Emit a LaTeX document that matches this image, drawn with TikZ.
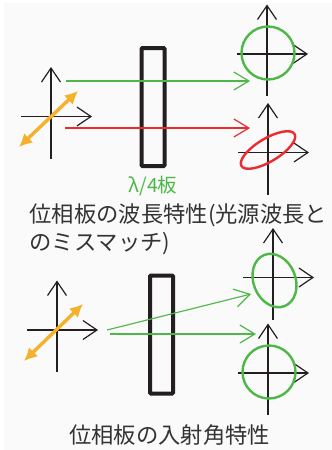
\documentclass[tikz,border=0pt]{standalone}
\usepackage{fontspec}
\newfontfamily\cjk{Noto Sans CJK JP}
\setmainfont{Liberation Sans}
\usetikzlibrary{arrows.meta}
\definecolor{grn}{HTML}{4DB848}
\definecolor{rd}{HTML}{EE2A2E}
\definecolor{org}{HTML}{F5B12A}
\definecolor{ink}{HTML}{231F20}
\definecolor{txt}{HTML}{333333}
\tikzset{
 x=1pt,y=-1pt,
 axisline/.style={draw=ink,line width=1.2pt,-{Straight Barb[length=14pt,width=19pt,line width=1.2pt]}},
 ray/.style={line width=1.2pt,-{Straight Barb[length=15pt,width=18pt,line width=1.2pt]}},
 plate/.style={draw=ink,line width=4pt,rounded corners=1pt,inner sep=0pt,minimum width=23pt,minimum height=118pt},
 pol/.style={draw=org,line width=3.4pt,{Latex[length=13pt,width=13pt]}-{Latex[length=13pt,width=13pt]}},
 caption/.style={font=\cjk\fontsize{22.3}{24}\selectfont,text=txt,inner sep=0pt,anchor=west},
 state/.style={line width=2.4pt},
}
\begin{document}
\begin{tikzpicture}
\useasboundingbox (0,0) rectangle (332,450);
\fill[white] (0,0) rectangle (332,450);
\fill[black!2] (4,3) rectangle (332,450);
% coordinates
\foreach \n/\x/\y in {A/51/116.5,B/267/54,C/268/152.5,D/57/330,E/273/277.5,F/268/373}{
 \coordinate (\n) at (\x,\y);
 \coordinate (\n t) at (\x,\y-49.5);
 \coordinate (\n b) at (\x,\y+42);
 \coordinate (\n l) at (\x-30,\y);
 \coordinate (\n r) at (\x+41,\y);
 \draw[axisline] (\n b) -- (\n t);
 \draw[axisline] (\n l) -- (\n r);
}
% plates
\node[plate] (p1) at (153,107) {};
\node[plate] (p2) at (161.5,334.5) {};
% rays
\coordinate (g1s) at (66,81); \coordinate (g1e) at (250,81);
\coordinate (r1s) at (65,128); \coordinate (r1e) at (250,128);
\coordinate (g2s) at (107,330); \coordinate (g2e) at (251,294);
\coordinate (g3s) at (110,334); \coordinate (g3e) at (256,334);
\draw[ray,grn] (g1s) -- (g1e);
\draw[ray,rd] (r1s) -- (r1e);
\draw[ray,grn] (g2s) -- (g2e);
\draw[ray,grn] (g3s) -- (g3e);
% polarisation
\coordinate (o1a) at (78,91); \coordinate (o1b) at (19,147);
\coordinate (o2a) at (83,304); \coordinate (o2b) at (24,361);
\draw[pol] (o1b) -- (o1a);
\draw[pol] (o2b) -- (o2a);
% states
\draw[state,grn] (268,53) circle [radius=26.5];
\draw[state,rd] (268,150) ellipse [x radius=31,y radius=11.5,rotate=31];
\draw[state,grn] (274.5,280.5) ellipse [x radius=27.5,y radius=21,rotate=-68];
\draw[state,grn] (269,372) circle [radius=26.5];
% labels
\node[inner sep=0pt,text=grn,font=\fontsize{19.5}{22}\selectfont] (lam) at (153,186) {{\cjk λ/4板}};
\node[caption] (c1) at (29.5,215.5) {位相板の波長特性(光源波長と};
\node[caption] (c2) at (29.5,243.5) {のミスマッチ)};
\node[caption] (c3) at (69,435) {位相板の入射角特性};
\end{tikzpicture}
\end{document}
